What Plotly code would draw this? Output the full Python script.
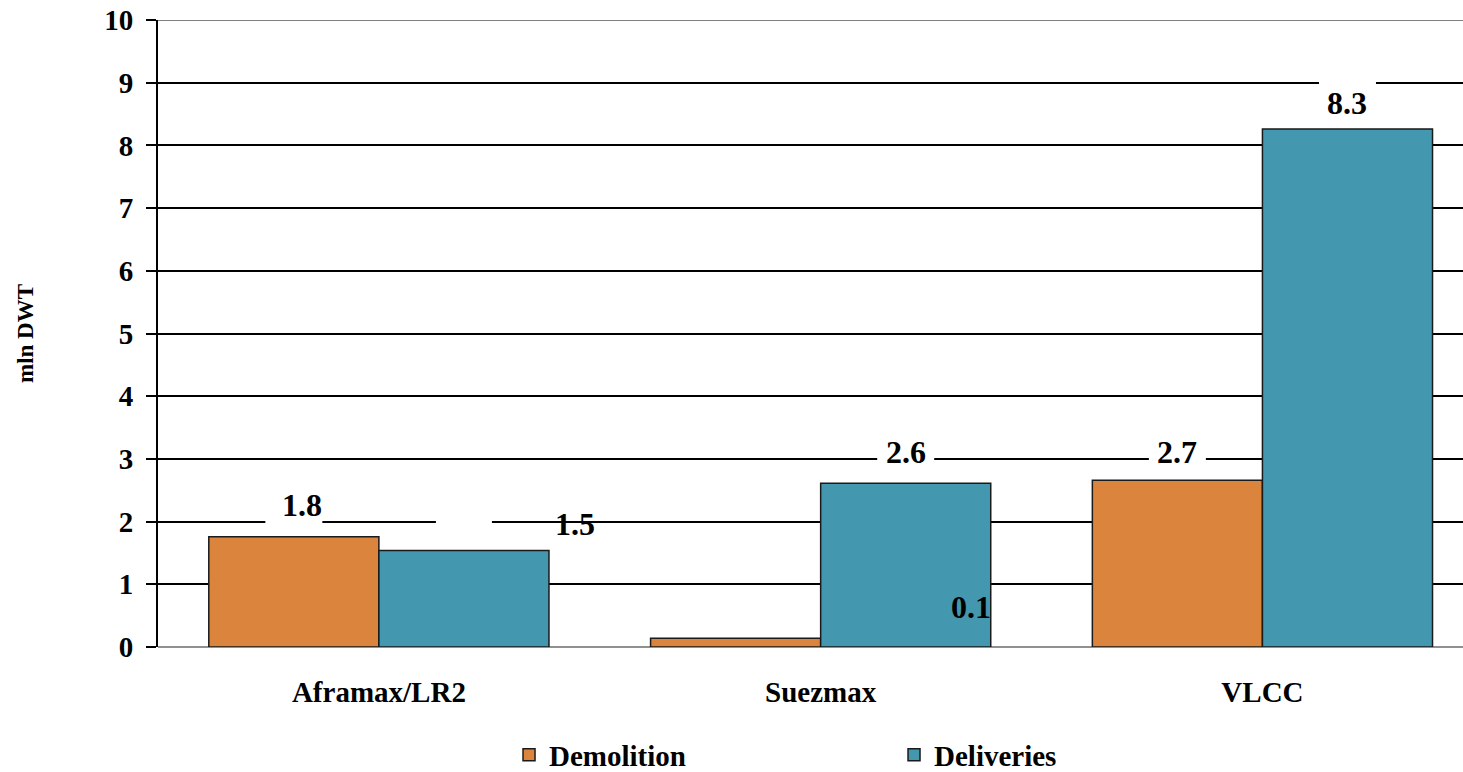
import plotly.graph_objects as go

categories = ["Aframax/LR2", "Suezmax", "VLCC"]
demolition = [1.76, 0.14, 2.66]
deliveries = [1.54, 2.61, 8.26]

ORANGE = "#DB843D"
TEAL = "#4397AF"
FONT = "Liberation Serif, Times New Roman, serif"

fig = go.Figure()
fig.add_trace(go.Bar(
    name="Demolition", x=categories, y=demolition,
    marker=dict(color=ORANGE, line=dict(color="#1a1a1a", width=1.5)),
))
fig.add_trace(go.Bar(
    name="Deliveries", x=categories, y=deliveries,
    marker=dict(color=TEAL, line=dict(color="#1a1a1a", width=1.5)),
))

# half of one bar's share of a category slot
BARGAP = 0.23
half = (1 - BARGAP) / 4

# value labels: (series, category index, side, pixel shift x, pixel shift y)
label_specs = [
    (demolition, 0, -1, 8, 32),
    (deliveries, 0, 1, 111, 26),
    (demolition, 1, -1, 235, 31),
    (deliveries, 1, 1, 0, 31),
    (demolition, 2, -1, 0, 28),
    (deliveries, 2, 1, 0, 26),
]
for series, i, side, dx, dy in label_specs:
    v = series[i]
    fig.add_annotation(
        x=i + side * half, y=v, xref="x", yref="y",
        text=f"<b>{v:.1f}</b>", showarrow=False,
        xshift=dx, yshift=dy,
        font=dict(family=FONT, size=32, color="black"),
    )

# white patches where label boxes interrupt the grid lines
gaps = [
    (0, -1, 2, 57, 0),
    (0, 1, 2, 56, 0),
    (1, 1, 3, 57, 0),
    (2, -1, 3, 57, 0),
    (2, 1, 9, 57, 0),
]
px_per_unit = 441.8
for i, side, gy, w, off in gaps:
    cx = i + side * half + off / px_per_unit
    fig.add_shape(
        type="rect", xref="x", yref="y", layer="between",
        x0=cx - w / 2 / px_per_unit, x1=cx + w / 2 / px_per_unit,
        y0=gy - 0.06, y1=gy + 0.06,
        fillcolor="white", line=dict(width=0),
    )

# plot-area top border
fig.add_shape(type="line", xref="paper", yref="y", x0=0, x1=1, y0=10, y1=10,
              layer="between", line=dict(color="#808080", width=2))

fig.update_layout(
    width=1463, height=772,
    margin=dict(l=158, r=0, t=20, b=125, autoexpand=False),
    paper_bgcolor="white", plot_bgcolor="white",
    barmode="group", bargap=BARGAP, bargroupgap=0,
    font=dict(family=FONT, color="black"),
    showlegend=True,
    legend=dict(
        orientation="h", x=0.564, xanchor="center",
        y=-0.172, yanchor="middle",
        font=dict(family=FONT, size=29, color="black", weight="bold"),
        entrywidth=340, entrywidthmode="pixels", itemwidth=30,
    ),
)
fig.update_xaxes(
    range=[-0.5, 2.454], showgrid=False, automargin=False,
    showline=False, zeroline=False, ticks="",
    tickfont=dict(family=FONT, size=29, color="black", weight="bold"),
    ticklabelstandoff=25,
)
fig.update_yaxes(
    range=[0, 10], dtick=1, tick0=0, automargin=False,
    showgrid=True, gridcolor="black", gridwidth=2,
    zeroline=True, zerolinecolor="#909090", zerolinewidth=2,
    showline=True, linecolor="black", linewidth=2,
    ticks="outside", ticklen=10, tickwidth=2, tickcolor="black",
    ticklabelstandoff=7,
    tickfont=dict(family=FONT, size=29, color="black", weight="bold"),
    title=dict(text="<b>mln DWT</b>", font=dict(family=FONT, size=23, color="black"), standoff=64),
)

fig.write_html("out.html")
